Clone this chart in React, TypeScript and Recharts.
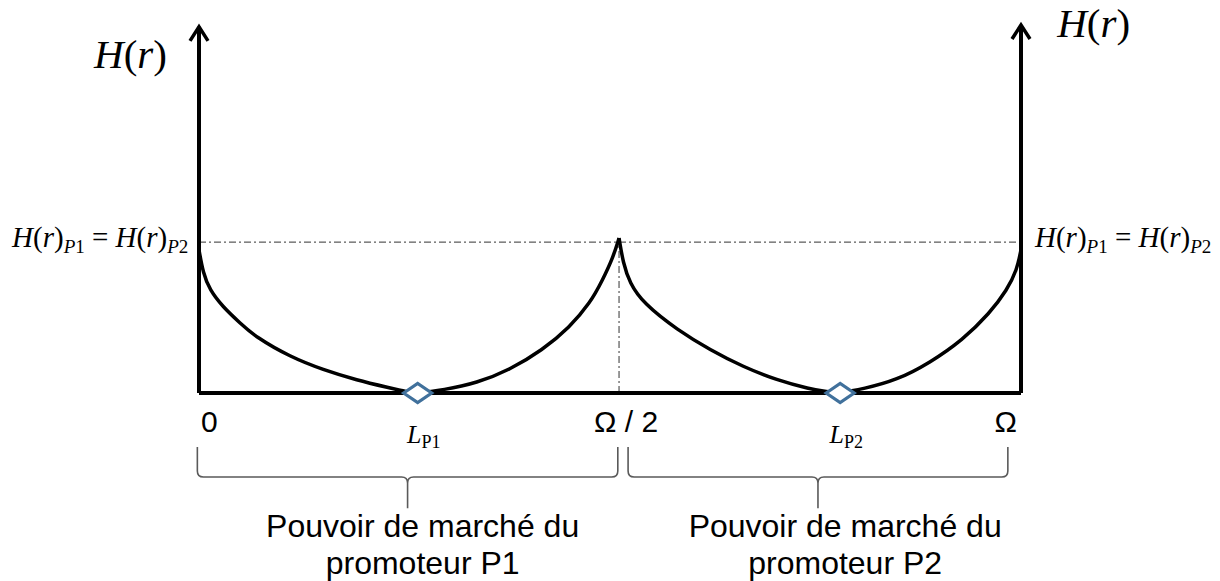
import React from 'react';
import {
  ComposedChart,
  Line,
  Scatter,
  XAxis,
  YAxis,
  ReferenceLine,
  ReferenceDot,
  ReferenceArea,
} from 'recharts';

// H(r) over the market of promoter P1 (0 -> Ω/2)
const bowlP1 = [
  { x: 0, y: 38.9 }, { x: 0.5, y: 32.6 }, { x: 1.3, y: 28.0 }, { x: 2.9, y: 23.4 },
  { x: 5.0, y: 19.0 }, { x: 6.9, y: 15.2 }, { x: 11.1, y: 9.8 }, { x: 15.1, y: 6.3 },
  { x: 19.2, y: 3.5 }, { x: 23.2, y: 1.4 }, { x: 25.3, y: 0.3 }, { x: 26.6, y: 0 },
  { x: 29.7, y: 0.8 }, { x: 33.8, y: 2.7 }, { x: 37.8, y: 6.3 }, { x: 41.8, y: 11.7 },
  { x: 45.1, y: 17.9 }, { x: 47.6, y: 24.5 }, { x: 49.1, y: 30.7 }, { x: 50.4, y: 37.0 },
  { x: 51.1, y: 42.1 },
];

// H(r) over the market of promoter P2 (Ω/2 -> Ω)
const bowlP2 = [
  { x: 51.1, y: 42.1 }, { x: 51.6, y: 35.3 }, { x: 52.4, y: 29.9 }, { x: 54.0, y: 24.5 },
  { x: 58.2, y: 17.1 }, { x: 62.2, y: 11.7 }, { x: 66.2, y: 7.1 }, { x: 70.3, y: 3.5 },
  { x: 74.3, y: 1.1 }, { x: 76.4, y: 0.3 }, { x: 78.0, y: 0 }, { x: 80.8, y: 1.1 },
  { x: 84.9, y: 3.5 }, { x: 88.9, y: 8.2 }, { x: 92.9, y: 14.4 }, { x: 96.2, y: 21.7 },
  { x: 98.3, y: 28.0 }, { x: 99.5, y: 33.4 }, { x: 100, y: 38.9 },
];

// Locations L_P1, L_P2
const markers = [
  { x: 26.6, y: 0, name: 'P1' },
  { x: 78.0, y: 0, name: 'P2' },
];

const xTickLabels = [
  { x: 0, label: '0', anchor: 'start' },
  { x: 51.1, label: 'Ω / 2', anchor: 'middle' },
  { x: 100, label: 'Ω', anchor: 'end' },
];

const braceSpans = [
  { x1: -0.2, x2: 50.95 },
  { x1: 52.2, x2: 98.4 },
];

const marketLine1 = 'Pouvoir de marché du';
const marketLine2 = ['promoteur P1', 'promoteur P2'];

const equalLevel = 41;
const peakX = 51.1;
const peakY = 42.1;
const leftAxisTop = 99.5;
const rightAxisTop = 100;

const tickLabelY = -10.6;
const locLabelY = -13.6;
const braceTop = -14.7;
const braceBottom = -31.3;
const marketY1 = -39.1;
const marketY2 = -49.2;
const leftTitle = { x: -3.9, y: 88.3 };
const rightTitle = { x: 104.4, y: 96.7 };
const leftEq = { x: -1.3, y: 39.7 };
const rightEq = { x: 101.7, y: 39.7 };

const SERIF = '"Liberation Serif", "Times New Roman", serif';
const SANS = '"Liberation Sans", Arial, sans-serif';

const Diamond = (props: any) => {
  const { cx, cy } = props;
  if (cx == null || cy == null) return null;
  const w = 14;
  const h = 9.5;
  return (
    <path
      d={`M${cx - w},${cy} L${cx},${cy - h} L${cx + w},${cy} L${cx},${cy + h} Z`}
      fill="#ffffff"
      stroke="#41719C"
      strokeWidth={3.2}
    />
  );
};

const Arrow = (props: any) => {
  const { cx, cy } = props;
  return (
    <path
      d={`M${cx - 9},${cy + 14} L${cx},${cy} L${cx + 9},${cy + 14}`}
      fill="none"
      stroke="#000"
      strokeWidth={3.5}
      strokeLinejoin="miter"
    />
  );
};

const Brace = (props: any) => {
  const { x, y, width, height } = props;
  const x2 = x + width;
  const cx = x + width / 2;
  const yh = y + height * 0.49;
  const yb = y + height;
  const r = 6;
  const d = [
    `M${x},${y} L${x},${yh - r} Q${x},${yh} ${x + r},${yh} L${cx - r},${yh} Q${cx},${yh} ${cx},${yh + r} L${cx},${yb}`,
    `M${cx},${yh + r} Q${cx},${yh} ${cx + r},${yh} L${x2 - r},${yh} Q${x2},${yh} ${x2},${yh - r} L${x2},${y}`,
  ].join(' ');
  return <path d={d} fill="none" stroke="#5a5a5a" strokeWidth={1.6} />;
};

const titleShape = (anchor: string) => (props: any) => (
  <text x={props.cx} y={props.cy} textAnchor={anchor} fontFamily={SERIF} fontSize={41} fill="#000">
    <tspan fontStyle="italic">H</tspan>
    <tspan>(</tspan>
    <tspan fontStyle="italic">r</tspan>
    <tspan>)</tspan>
  </text>
);

const eqShape = (anchor: string) => (props: any) => (
  <text x={props.cx} y={props.cy} textAnchor={anchor} fontFamily={SERIF} fontSize={29} fill="#000">
    <tspan fontStyle="italic">H</tspan>
    <tspan>(</tspan>
    <tspan fontStyle="italic">r</tspan>
    <tspan>)</tspan>
    <tspan fontStyle="italic" fontSize={19} dy={6}>P</tspan>
    <tspan fontSize={19}>1</tspan>
    <tspan dy={-6}> = </tspan>
    <tspan fontStyle="italic">H</tspan>
    <tspan>(</tspan>
    <tspan fontStyle="italic">r</tspan>
    <tspan>)</tspan>
    <tspan fontStyle="italic" fontSize={19} dy={6}>P</tspan>
    <tspan fontSize={19}>2</tspan>
  </text>
);

const tickShape = (label: string, anchor: string) => (props: any) => (
  <text
    x={props.cx + (anchor === 'start' ? 2 : anchor === 'end' ? -4 : 7)}
    y={props.cy}
    textAnchor={anchor}
    fontFamily={SANS}
    fontSize={30}
    fill="#000"
  >
    {label}
  </text>
);

const locShape = (name: string) => (props: any) => (
  <text x={props.cx + 6} y={props.cy} textAnchor="middle" fontFamily={SERIF} fontSize={26} fill="#000">
    <tspan fontStyle="italic">L</tspan>
    <tspan fontSize={18} dy={5}>{name}</tspan>
  </text>
);

const marketShape = (text: string) => (props: any) => (
  <text x={props.cx + 5} y={props.cy} textAnchor="middle" fontFamily={SANS} fontSize={32} fill="#000">
    {text}
  </text>
);

export default function App() {
  return (
    <div style={{ position: 'absolute', left: 0, top: 0, width: 1220, height: 581 }}>
      <ComposedChart
        width={1220}
        height={581}
        margin={{ top: 25, right: 199, bottom: 151.2, left: 199 }}
      >
        <XAxis dataKey="x" type="number" domain={[0, 100]} hide allowDataOverflow />
        <YAxis dataKey="y" type="number" domain={[-10, 100]} hide allowDataOverflow />

        {/* dash-dot guides */}
        <ReferenceLine
          segment={[{ x: 0, y: equalLevel }, { x: 100, y: equalLevel }]}
          stroke="#333"
          strokeWidth={1}
          strokeDasharray="7 3 2 3"
          ifOverflow="visible"
        />
        <ReferenceLine
          segment={[{ x: peakX, y: 0 }, { x: peakX, y: peakY }]}
          stroke="#333"
          strokeWidth={1}
          strokeDasharray="7 3 2 3"
          ifOverflow="visible"
        />

        {/* axes */}
        <ReferenceLine
          segment={[{ x: 0, y: 0 }, { x: 100, y: 0 }]}
          stroke="#000"
          strokeWidth={4}
          ifOverflow="visible"
        />
        <ReferenceLine
          segment={[{ x: 0, y: 0 }, { x: 0, y: leftAxisTop }]}
          stroke="#000"
          strokeWidth={4}
          ifOverflow="visible"
        />
        <ReferenceLine
          segment={[{ x: 100, y: 0 }, { x: 100, y: rightAxisTop }]}
          stroke="#000"
          strokeWidth={4}
          ifOverflow="visible"
        />
        <ReferenceDot x={0} y={leftAxisTop} ifOverflow="visible" shape={Arrow} />
        <ReferenceDot x={100} y={rightAxisTop} ifOverflow="visible" shape={Arrow} />

        <Line
          data={bowlP1}
          dataKey="y"
          type="basis"
          stroke="#000"
          strokeWidth={3.5}
          dot={false}
          activeDot={false}
          isAnimationActive={false}
        />
        <Line
          data={bowlP2}
          dataKey="y"
          type="basis"
          stroke="#000"
          strokeWidth={3.5}
          dot={false}
          activeDot={false}
          isAnimationActive={false}
        />

        <Scatter data={markers} dataKey="y" shape={Diamond} isAnimationActive={false} zIndex={3000} />

        {/* braces */}
        {braceSpans.map((b, i) => (
          <ReferenceArea
            key={'brace' + i}
            x1={b.x1}
            x2={b.x2}
            y1={braceTop}
            y2={braceBottom}
            ifOverflow="visible"
            shape={Brace}
          />
        ))}

        {/* texts */}
        <ReferenceDot x={leftTitle.x} y={leftTitle.y} ifOverflow="visible" shape={titleShape('end')} />
        <ReferenceDot x={rightTitle.x} y={rightTitle.y} ifOverflow="visible" shape={titleShape('start')} />
        <ReferenceDot x={leftEq.x} y={leftEq.y} ifOverflow="visible" shape={eqShape('end')} />
        <ReferenceDot x={rightEq.x} y={rightEq.y} ifOverflow="visible" shape={eqShape('start')} />

        {xTickLabels.map((t) => (
          <ReferenceDot
            key={'tick' + t.label}
            x={t.x}
            y={tickLabelY}
            ifOverflow="visible"
            shape={tickShape(t.label, t.anchor)}
          />
        ))}

        {markers.map((m) => (
          <ReferenceDot key={'loc' + m.name} x={m.x} y={locLabelY} ifOverflow="visible" shape={locShape(m.name)} />
        ))}

        {markers.map((m) => (
          <ReferenceDot key={'mk1' + m.name} x={m.x} y={marketY1} ifOverflow="visible" shape={marketShape(marketLine1)} />
        ))}
        {markers.map((m, i) => (
          <ReferenceDot key={'mk2' + m.name} x={m.x} y={marketY2} ifOverflow="visible" shape={marketShape(marketLine2[i])} />
        ))}
      </ComposedChart>
    </div>
  );
}
